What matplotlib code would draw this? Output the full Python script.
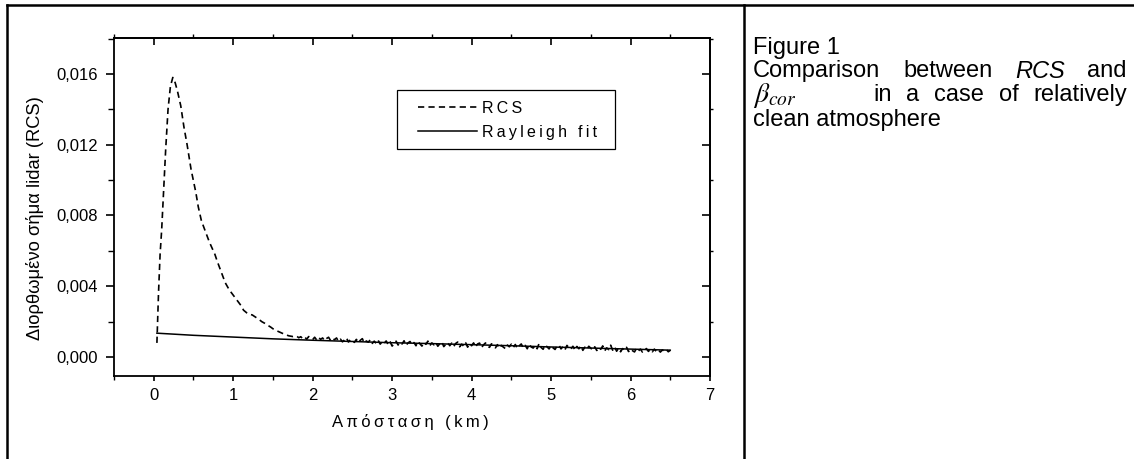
import numpy as np
import matplotlib
matplotlib.use("Agg")
import matplotlib.pyplot as plt
from matplotlib.lines import Line2D
from matplotlib.patches import Rectangle
from matplotlib.ticker import FuncFormatter, MultipleLocator

plt.rcParams['font.family'] = ['Liberation Sans', 'DejaVu Sans']
plt.rcParams['lines.scale_dashes'] = False
plt.rcParams['mathtext.fontset'] = 'custom'
plt.rcParams['mathtext.it'] = 'Liberation Sans:italic'
plt.rcParams['mathtext.rm'] = 'Liberation Sans'

# ---------------- data ----------------
# RCS near range (km) and values (x1e-5)
rcs_head_x = [0.04, 0.06, 0.08, 0.10, 0.12, 0.15, 0.18, 0.21, 0.24, 0.27, 0.30, 0.34,
              0.38, 0.42, 0.47, 0.53, 0.56, 0.60, 0.65, 0.70, 0.73, 0.77, 0.80, 0.85,
              0.90, 0.95, 1.00, 1.05, 1.10, 1.13, 1.17, 1.20, 1.24, 1.28, 1.32, 1.36,
              1.40, 1.44, 1.47, 1.50, 1.55, 1.60, 1.65, 1.70, 1.75]
rcs_head_y = [80, 360, 580, 720, 900, 1170, 1400, 1530, 1580, 1550, 1500, 1420,
              1300, 1200, 1060, 930, 850, 770, 710, 650, 620, 580, 540, 480,
              420, 380, 350, 320, 290, 265, 250, 242, 238, 226, 214, 200,
              190, 178, 170, 160, 148, 138, 128, 120, 116]
# RCS far range, 0.025 km bins from 1.800 to 6.500 km (x1e-5)
rcs_tail_x = np.round(np.arange(1.800, 6.5001, 0.025), 3)
rcs_tail_y = [118, 109, 115, 104, 113, 101, 116, 106, 99, 112,
              97, 111, 100, 108, 93, 105, 112, 94, 106, 98,
              108, 89, 101, 86, 97, 109, 85, 99, 93, 83,
              100, 82, 95, 104, 79, 91, 84, 98, 77, 90,
              76, 94, 73, 88, 78, 91, 70, 86, 62, 75,
              90, 68, 83, 74, 92, 66, 80, 88, 70, 82,
              64, 88, 75, 62, 84, 72, 90, 65, 80, 69,
              83, 61, 76, 86, 59, 72, 82, 64, 79, 60,
              77, 85, 58, 73, 62, 81, 56, 75, 64, 80,
              57, 74, 79, 53, 69, 80, 60, 55, 75, 63,
              52, 70, 50, 66, 56, 48, 68, 58, 73, 54,
              71, 49, 64, 74, 52, 66, 47, 72, 57, 51,
              67, 47, 78, 54, 44, 69, 58, 46, 65, 52,
              43, 62, 68, 46, 59, 41, 66, 52, 45, 61,
              40, 60, 47, 64, 38, 56, 44, 61, 50, 39,
              58, 37, 53, 44, 63, 35, 52, 42, 67, 39,
              57, 33, 50, 30, 48, 39, 55, 31, 46, 36,
              29, 49, 35, 45, 28, 42, 48, 32, 44, 30,
              45, 31, 41, 28, 40, 34, 43, 30, 38]
# Rayleigh fit (km, x1e-5)
fit_x = [0.04, 0.5, 1.0, 1.5, 2.0, 2.5, 3.0, 3.5, 4.0, 4.5, 5.0, 5.5, 6.0, 6.5]
fit_y = [135, 123, 113, 103, 95, 88, 81, 76, 70, 64, 57, 51, 45, 39]

x_major = [0, 1, 2, 3, 4, 5, 6, 7]
y_major = [0.000, 0.004, 0.008, 0.012, 0.016]

# ---------------- figure ----------------
W, H = 1134, 459
fig = plt.figure(figsize=(W / 100, H / 100), dpi=100)
fx = lambda px: px / W
fy = lambda py: 1 - py / H

ax = fig.add_axes([fx(114), fy(376), fx(710) - fx(114), fy(38) - fy(376)])

rcs_x = np.concatenate([rcs_head_x, rcs_tail_x])
rcs_y = np.concatenate([rcs_head_y, rcs_tail_y]) * 1e-5
ax.plot(rcs_x, rcs_y, color='black', lw=1.2, linestyle=(0, (4.5, 3.0)),
        label='R\u2009C\u2009S')
ax.plot(fit_x, np.array(fit_y) * 1e-5, color='black', lw=1.1, linestyle='-',
        label='R\u2009a\u2009y\u2009l\u2009e\u2009i\u2009g\u2009h\u2009 \u2009f\u2009i\u2009t')

ax.set_xlim(-0.5, 7)
ax.set_ylim(-0.00107, 0.01803)

for s in ax.spines.values():
    s.set_linewidth(1.3)

ax.set_xticks(x_major)
ax.xaxis.set_minor_locator(MultipleLocator(0.5))
ax.set_yticks(y_major)
ax.yaxis.set_minor_locator(MultipleLocator(0.002))
ax.yaxis.set_major_formatter(FuncFormatter(lambda v, p: f"{v:.3f}".replace('.', ',')))
ax.tick_params(axis='both', which='major', direction='out', labelsize=12, width=1.2, color='black')
ax.tick_params(axis='y', which='major', length=5.8, pad=5.5)
ax.tick_params(axis='y', which='minor', direction='out', length=4.3, width=1.0)
ax.tick_params(axis='x', which='major', length=3.8, pad=4.5)
ax.tick_params(axis='x', which='minor', direction='out', length=3.0, width=1.0)
ax.tick_params(top=False, right=False, which='both')

# mirrored axes with inward majors and outward minors
top = ax.secondary_xaxis('top')
top.set_xticks(x_major)
top.xaxis.set_minor_locator(MultipleLocator(0.5))
top.tick_params(which='major', direction='in', length=5, width=1.2, labeltop=False)
top.tick_params(which='minor', direction='out', length=3, width=1.0)
top.spines['top'].set_linewidth(1.3)
right = ax.secondary_yaxis('right')
right.set_yticks(y_major)
right.yaxis.set_minor_locator(MultipleLocator(0.002))
right.tick_params(which='major', direction='in', length=5.8, width=1.2, labelright=False)
right.tick_params(which='minor', direction='out', length=2, width=1.0)
right.spines['right'].set_linewidth(1.3)

# legend (contents) + square frame
leg = ax.legend(loc='upper left', bbox_to_anchor=((418 - 114) / 596, (376 - 101) / 338),
                borderaxespad=0, borderpad=0, frameon=False,
                fontsize=11.5, handlelength=3.7, handletextpad=0.3, labelspacing=0.55)
fig.add_artist(Rectangle((fx(397), fy(149)), fx(615) - fx(397), fy(90) - fy(149),
                         transform=fig.transFigure, fill=False, edgecolor='black', lw=0.9))

# axis labels
fig.text(fx(35), fy(218), 'Διορθωμένο σήμα lidar (RCS)', rotation=90,
         ha='center', va='center', fontsize=13.2)
fig.text(fx(410), fy(422), '\u2009'.join('Απόσταση (km)'), ha='center', va='center',
         fontsize=12)

# frame lines
lw_frame = 1.8
fig.add_artist(Line2D([fx(7), fx(7)], [fy(5), 0], transform=fig.transFigure, color='black', lw=lw_frame))
fig.add_artist(Line2D([fx(7), 1], [fy(5), fy(5)], transform=fig.transFigure, color='black', lw=lw_frame))
fig.add_artist(Line2D([fx(744), fx(744)], [fy(5), 0], transform=fig.transFigure, color='black', lw=lw_frame))

# caption (justified lines between x=753 and x=1127)
cs = 17
renderer = fig.canvas.get_renderer()


def justify(words, y, x0, x1, styles=None):
    texts = []
    for i, w in enumerate(words):
        st = styles[i] if styles else 'normal'
        texts.append(fig.text(fx(x0), fy(y), w, ha='left', va='center', fontsize=cs, style=st))
    widths = [t.get_window_extent(renderer).width for t in texts]
    gap = (x1 - x0 - sum(widths)) / (len(words) - 1)
    x = x0
    for t, w in zip(texts, widths):
        t.set_x(fx(x))
        x += w + gap


fig.text(fx(753), fy(48), 'Figure 1', ha='left', va='center', fontsize=cs)
justify(['Comparison', 'between', 'RCS', 'and'], 71, 753, 1127,
        ['normal', 'normal', 'italic', 'normal'])
fig.text(fx(753), fy(95), r'$\beta_{cor}$', ha='left', va='center', fontsize=20,
         math_fontfamily='stix')
justify(['in', 'a', 'case', 'of', 'relatively'], 95, 873, 1127)
fig.text(fx(753), fy(120), 'clean atmosphere', ha='left', va='center', fontsize=cs)

fig.savefig('out.png', dpi=100)
